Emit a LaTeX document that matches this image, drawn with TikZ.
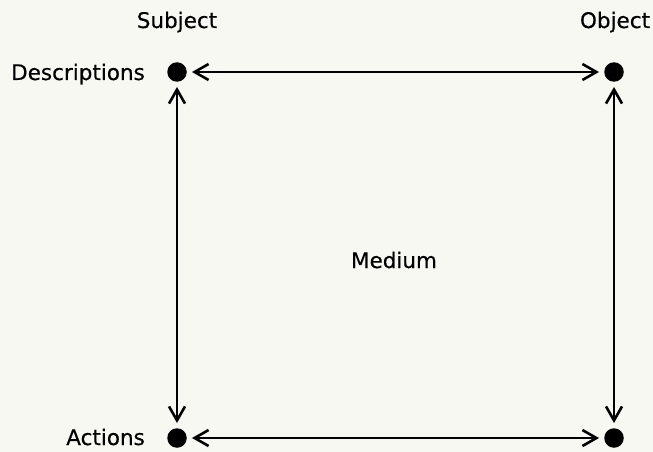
\documentclass[tikz,border=0pt]{standalone}
\usepackage{fontspec}
\setmainfont{DejaVu Sans}
\usetikzlibrary{arrows.meta}
\definecolor{bg}{RGB}{248,248,243}
\begin{document}
\begin{tikzpicture}[x=1pt,y=-1pt,
  dot/.style={circle,fill=black,inner sep=0pt,minimum size=19.5pt},
  lbl/.style={inner sep=0pt,font=\fontsize{21.5}{25}\selectfont\addfontfeature{FakeBold=0.4}},
  link/.style={line width=2.6pt,{Straight Barb[length=14pt,width=16pt,line width=2.6pt]}-{Straight Barb[length=14pt,width=16pt,line width=2.6pt]},shorten <=5pt,shorten >=5pt}]
\fill[bg] (0,0) rectangle (653,452);
\useasboundingbox (0,0) rectangle (653,452);
\node[dot] (d) at (177,72) {};
\node[dot] (o) at (614,72) {};
\node[dot] (a) at (177,438) {};
\node[dot] (b) at (614,438) {};
\draw[link] (d) -- (o);
\draw[link] (a) -- (b);
\draw[link] (d) -- (a);
\draw[link] (o) -- (b);
\node[lbl,anchor=base] (subj) at (177,28) {Subject};
\node[lbl,anchor=base] (obj) at (615,28) {Object};
\node[lbl,anchor=base east] (desc) at (145,80) {Descriptions};
\node[lbl,anchor=base east] (act) at (145,445) {Actions};
\node[lbl,anchor=base] (med) at (394,268) {Medium};
\end{tikzpicture}
\end{document}
